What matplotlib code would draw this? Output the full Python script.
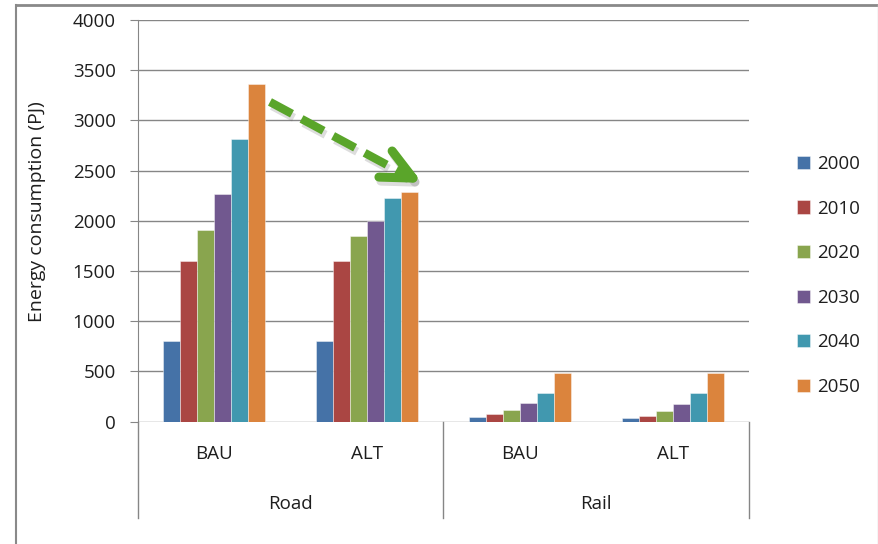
import numpy as np
import matplotlib
matplotlib.use("Agg")
import matplotlib.pyplot as plt
import matplotlib.transforms as mtransforms
from matplotlib.lines import Line2D

plt.rcParams['font.family'] = ['Open Sans', 'DejaVu Sans']

# energy use by mode and scenario (PJ)
years = ['2000', '2010', '2020', '2030', '2040', '2050']
scenarios = ['BAU', 'ALT', 'BAU', 'ALT']
modes = ['Road', 'Rail']
v2000 = [800, 800, 50, 35]
v2010 = [1600, 1600, 75, 60]
v2020 = [1910, 1850, 120, 105]
v2030 = [2270, 2000, 190, 180]
v2040 = [2820, 2230, 290, 290]
v2050 = [3360, 2290, 480, 480]
series = [v2000, v2010, v2020, v2030, v2040, v2050]
colors = ['#4572A7', '#AA4643', '#89A54E', '#71588F', '#4198AF', '#DB843D']

grey = '#868686'
txt = '#1e1e1e'
fs = 13.5

fig = plt.figure(figsize=(8.79, 5.44), dpi=100)
ax = fig.add_axes([138 / 879, 1 - 421.7 / 544, 611 / 879, 401.7 / 544])

x = np.arange(len(scenarios))
w = (1 / 1.5) / len(years)
for i, (vals, c) in enumerate(zip(series, colors)):
    ax.bar(x + (i - 2.5) * w, vals, w, color=c, label=years[i],
           edgecolor=(1, 1, 1, 0.5), linewidth=0.6, zorder=3)

ax.set_xlim(-0.5, len(scenarios) - 0.5)
ax.set_ylim(0, 4000)
ax.set_yticks(np.arange(0, 4001, 500))
ax.yaxis.grid(True, color=grey, linewidth=1)
ax.set_axisbelow(True)
for s in ['top', 'right', 'bottom']:
    ax.spines[s].set_visible(False)
ax.spines['left'].set_color(grey)
ax.tick_params(axis='y', length=6, color=grey, labelsize=fs, labelcolor=txt, pad=10)
ax.tick_params(axis='x', length=0, labelbottom=False)
ax.set_ylabel('Energy consumption (PJ)', fontsize=14, color=txt)
ax.yaxis.set_label_coords(-92 / 611, 0.523)

# two-level category axis
trans = mtransforms.blended_transform_factory(ax.transData, ax.transAxes)
for xi, s in zip(x, scenarios):
    ax.text(xi, -32 / 401.7, s, transform=trans, ha='center', va='center',
            fontsize=fs, color=txt)
for k, m in enumerate(modes):
    ax.text(2 * k + 0.5, -82 / 401.7, m, transform=trans, ha='center', va='center',
            fontsize=fs, color=txt)
for xs in [-0.5, 1.5, 3.5]:
    ax.plot([xs, xs], [0, -96 / 401.7], transform=trans, color=grey,
            linewidth=1, clip_on=False)

ax.legend(loc='center left', bbox_to_anchor=(1.051, 0.364), frameon=False,
          fontsize=fs, handlelength=0.7, handleheight=0.7, handletextpad=0.38,
          labelspacing=1.42, labelcolor=txt)

# green dashed trend arrow from BAU 2050 toward ALT 2050
start = (0.364, 3184)
tip = (1.300, 2426)
green = '#5AA52A'
shadow = mtransforms.offset_copy(ax.transData, fig=fig, x=2, y=-4, units='dots')
for tr, col, a in [(shadow, '#555555', 0.2), (ax.transData, green, 1.0)]:
    ax.plot([start[0], tip[0] - 0.04], [start[1], tip[1] + 25], transform=tr,
            color=col, alpha=a, linewidth=6, dashes=(3.0, 1.3),
            solid_capstyle='butt', dash_capstyle='butt', zorder=5, clip_on=False)
    for dx, dy in [(-15, 19.5), (-24.5, 0.7)]:
        ax.annotate('', xy=tip, xycoords=tr, xytext=(dx, dy), textcoords='offset points',
                    arrowprops=dict(arrowstyle='-', color=col, alpha=a, lw=6.5,
                                    capstyle='round', shrinkA=0, shrinkB=0),
                    zorder=5)

# outer chart frame
fig.add_artist(Line2D([16 / 879, 1], [1 - 5 / 544] * 2, color='#898989', linewidth=2))
fig.add_artist(Line2D([16 / 879] * 2, [0, 1 - 5 / 544], color='#898989', linewidth=1.5))
fig.add_artist(Line2D([878 / 879] * 2, [0, 1 - 5 / 544], color='#d0d0d0', linewidth=1))

fig.savefig('out.png', dpi=100)
